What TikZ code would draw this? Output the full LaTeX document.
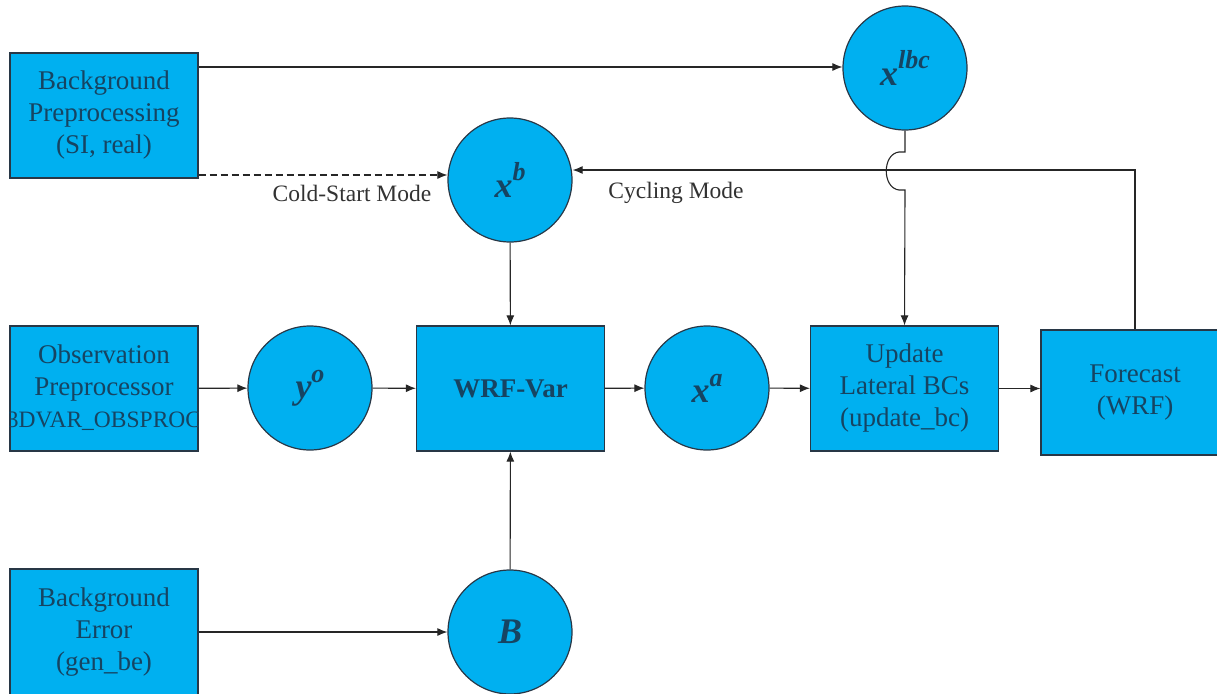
\documentclass[tikz,border=0pt]{standalone}
\usepackage{fontspec}
\setmainfont{Liberation Serif}
\usetikzlibrary{arrows.meta}
\definecolor{boxfill}{RGB}{0,176,240}
\definecolor{boxtext}{RGB}{22,68,98}
\definecolor{edge}{RGB}{40,55,70}
\definecolor{lbl}{RGB}{50,50,50}
\begin{document}
\begin{tikzpicture}[x=1pt,y=-1pt,
  box/.style={draw=edge,line width=1.2pt,fill=boxfill,minimum width=188pt,minimum height=125pt,inner sep=0pt,align=center,text=boxtext,font=\fontsize{27}{32}\selectfont},
  circ/.style={draw=edge,line width=1.2pt,fill=boxfill,circle,minimum size=124pt,inner sep=0pt,text=boxtext,font=\fontsize{36}{40}\selectfont\bfseries\itshape},
  conn/.style={draw=black!85,line width=1.1pt,-{Latex[length=10pt,width=8pt]}},
  lab/.style={text=lbl,font=\fontsize{23.5}{26}\selectfont}]
\useasboundingbox (0,0) rectangle (1217,693);
\node[box] (bgp) at (104,115.5) {Background\\Preprocessing\\(SI, real)};
\node[box] (obs) at (104,388.5) {};
\begin{scope}
\clip (obs.south west) rectangle (obs.north east);
\node[text=boxtext,align=center,font=\fontsize{27}{32}\selectfont] (obstext) at (104,388.5) {Observation\\Preprocessor\\{\fontsize{23.5}{32}\selectfont(3DVAR\_OBSPROC)}};
\end{scope}
\node[box,minimum height=131pt] (bge) at (104,634.5) {};
\node[text=boxtext,align=center,font=\fontsize{27}{32}\selectfont] (bgetext) at (104,632) {Background\\Error\\(gen\_be)};
\node[circ] (lbc) at (905,68) {x\raisebox{0.45em}{\fontsize{26}{28}\selectfont lbc}};
\node[circ] (xb) at (510,180) {x\raisebox{0.45em}{\fontsize{26}{28}\selectfont b}};
\node[circ] (yo) at (310,388) {y\raisebox{0.45em}{\fontsize{26}{28}\selectfont o}};
\node[box] (wrf) at (510.5,388.5) {\bfseries WRF-Var};
\node[circ] (xa) at (707,388) {x\raisebox{0.45em}{\fontsize{26}{28}\selectfont a}};
\node[box] (upd) at (904.5,388.5) {Update\\Lateral BCs\\(update\_bc)};
\node[box] (fc) at (1135,392.5) {Forecast\\(WRF)};
\node[circ] (B) at (510,632) {B};
\node[lab] (cold) at (352,193) {Cold-Start Mode};
\node[lab] (cyc) at (676,193) {Cycling Mode};
\draw[conn] (bgp.east |- 0,67) -- (lbc.west |- 0,67);
\draw[conn,dash pattern=on 7pt off 4pt] (bgp.east |- 0,175) -- (xb.west |- 0,175);
\draw[conn] (fc.north) -- (1135,170) -- (xb.east |- 0,170);
\draw[conn] (lbc.south) -- (905,152) -- (899,152) .. controls (882,154) and (882,188) .. (899,190) -- (905,190) -- (upd.north);
\draw[conn] (xb) -- (wrf);
\draw[conn] (obs) -- (yo);
\draw[conn] (yo) -- (wrf);
\draw[conn] (wrf) -- (xa);
\draw[conn] (xa) -- (upd);
\draw[conn] (upd.east) -- (fc.west |- upd.east);
\draw[conn] (B) -- (wrf);
\draw[conn] (bge.east |- B.west) -- (B.west);
\end{tikzpicture}
\end{document}
